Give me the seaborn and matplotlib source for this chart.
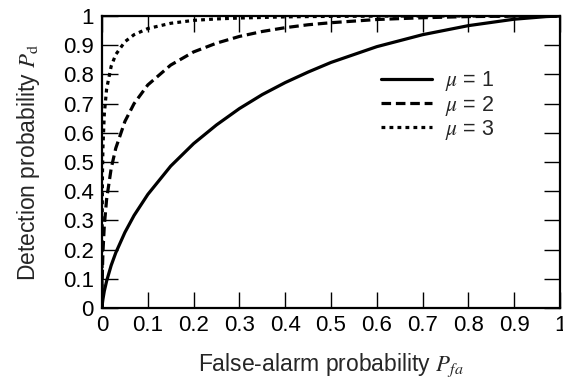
import numpy as np
import pandas as pd
import matplotlib
matplotlib.use("Agg")
import matplotlib.pyplot as plt
import seaborn as sns

# False-alarm probability (x) and detection probability (y)
pfa = [0, 0.0001, 0.001, 0.002, 0.005, 0.01, 0.02, 0.03, 0.05, 0.07, 0.1, 0.15,
       0.2, 0.25, 0.3, 0.35, 0.4, 0.45, 0.5, 0.6, 0.7, 0.8, 0.9, 0.97, 1.0]
pd_mu1 = [0, 0.003, 0.018, 0.030, 0.058, 0.092, 0.146, 0.189, 0.259, 0.317, 0.389, 0.486,
          0.563, 0.627, 0.683, 0.731, 0.772, 0.808, 0.841, 0.895, 0.936, 0.967, 0.989, 0.998, 1.0]
pd_mu2 = [0, 0.043, 0.138, 0.190, 0.282, 0.372, 0.478, 0.547, 0.639, 0.700, 0.764, 0.832,
          0.877, 0.907, 0.930, 0.947, 0.960, 0.970, 0.977, 0.988, 0.994, 0.998, 0.9995, 1.0, 1.0]
pd_mu3 = [0, 0.236, 0.464, 0.549, 0.664, 0.750, 0.828, 0.868, 0.912, 0.936, 0.957, 0.975,
          0.985, 0.990, 0.993, 0.995, 0.997, 0.998, 0.9987, 0.9995, 1.0, 1.0, 1.0, 1.0, 1.0]
mu_labels = ["1", "2", "3"]
tick_vals = [0, 0.1, 0.2, 0.3, 0.4, 0.5, 0.6, 0.7, 0.8, 0.9, 1.0]
tick_labels = ["0", "0.1", "0.2", "0.3", "0.4", "0.5", "0.6", "0.7", "0.8", "0.9", "1"]

sns.set_style("ticks")
plt.rcParams["font.family"] = ["Liberation Sans", "DejaVu Sans"]
plt.rcParams["mathtext.fontset"] = "stix"

fig = plt.figure(figsize=(5.63, 3.79), dpi=100)
ax = fig.add_axes([0.1812, 0.1873, 0.8135, 0.7705])

styles = ["-", (0, (3.0, 1.5)), (0, (1.2, 1.3))]
for ys, mu, ls in zip([pd_mu1, pd_mu2, pd_mu3], mu_labels, styles):
    sns.lineplot(x=pfa, y=ys, ax=ax, color="black", linewidth=2.3,
                 linestyle=ls, label=r"$\mu$ = " + mu, estimator=None, sort=False)

ax.set_xlim(0, 1)
ax.set_ylim(0, 1)
ax.set_xticks(tick_vals)
ax.set_xticklabels(tick_labels)
ax.set_yticks(tick_vals)
ax.set_yticklabels(tick_labels)
ax.tick_params(direction="in", length=11.5, width=1, top=True, right=True,
               labelsize=16, colors="black")
ax.tick_params(axis="y", pad=6)
ax.tick_params(axis="x", pad=5)
for s in ax.spines.values():
    s.set_linewidth(1.6)
    s.set_color("black")

ax.set_xlabel(r"False-alarm probability $P_{fa}$", fontsize=16.5, labelpad=11)
ax.set_ylabel(r"Detection probability $P_\mathrm{d}$", fontsize=16.5, labelpad=15)

ax.legend(loc="upper left", bbox_to_anchor=(0.585, 0.855), frameon=False, borderpad=0,
          fontsize=15.5, handlelength=2.4, handletextpad=0.6, labelspacing=0.02)

fig.savefig("out.png", dpi=100)
